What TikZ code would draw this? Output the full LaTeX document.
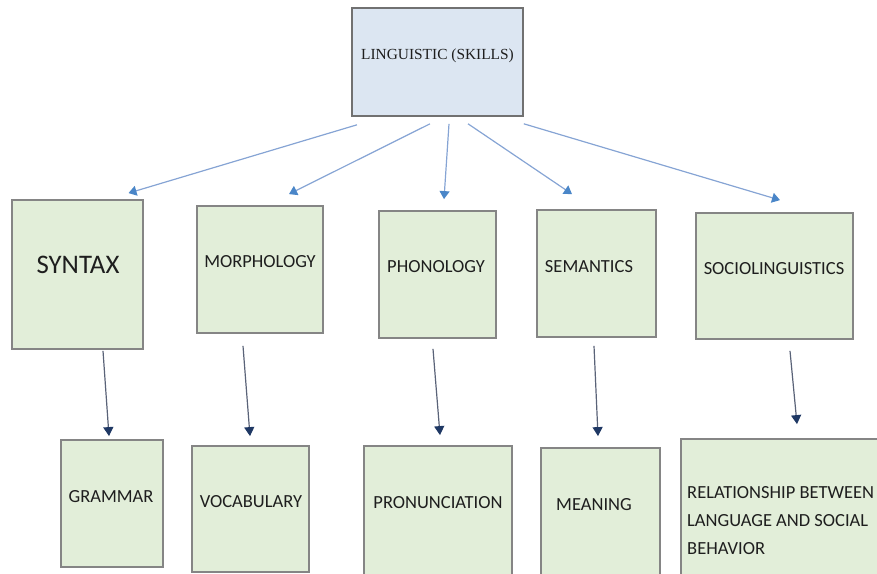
\documentclass[tikz,border=0pt]{standalone}
\usepackage{fontspec}
\setmainfont{Carlito}
\newfontfamily\headfont{Liberation Serif}
\usepackage{xcolor}
\usepackage{tikz}
\usetikzlibrary{arrows.meta}
\definecolor{boxgreen}{HTML}{E2EED9}
\definecolor{boxblue}{HTML}{DCE6F2}
\definecolor{edgegray}{HTML}{858585}
\definecolor{skyline}{HTML}{86A4D4}
\definecolor{skyhead}{HTML}{4A86C8}
\definecolor{navyline}{HTML}{5A6378}
\definecolor{navyhead}{HTML}{1F3864}
\definecolor{inkgray}{HTML}{1E1E1E}

\begin{document}
\begin{tikzpicture}[x=1pt, y=-1pt, >=stealth]
  \tikzstyle{rootbox}=[draw=edgegray!85!black, line width=1.6pt, fill=boxblue, inner sep=0pt]
  \tikzstyle{skill}=[draw=edgegray, line width=1.8pt, fill=boxgreen, inner sep=0pt]
  \tikzstyle{tag}=[text=inkgray, inner sep=0pt, font=\fontsize{18.5}{28}\selectfont]
  \tikzstyle{skyarr}=[draw=skyline, line width=1.2pt, -{Triangle[width=10pt,length=8pt,color=skyhead]}]
  \tikzstyle{navyarr}=[draw=navyline, line width=1.2pt, -{Triangle[width=10pt,length=9pt,color=navyhead]}]
  \useasboundingbox (0,0) rectangle (877,573);
  \clip (0,0) rectangle (877,573);
  % root
  \node[rootbox, minimum width=171pt, minimum height=108pt] (ling) at (437.5,62) {};
  \node[text=inkgray, font=\headfont\fontsize{15.4}{18}\selectfont] (ling-t) at (437.5,56) {LINGUISTIC (SKILLS)};
  % first level
  \node[skill, minimum width=131pt, minimum height=149pt] (syntax) at (77.5,274.5) {};
  \node[skill, minimum width=126pt, minimum height=127pt] (morph) at (260,269.5) {};
  \node[skill, minimum width=117pt, minimum height=127pt] (phon) at (437.5,274.5) {};
  \node[skill, minimum width=119pt, minimum height=127pt] (sem) at (596.5,273.5) {};
  \node[skill, minimum width=157pt, minimum height=126pt] (socio) at (774.5,276) {};
  \node[tag, font=\fontsize{26.8}{30}\selectfont] (syntax-t) at (78,265) {SYNTAX};
  \node[tag] (morph-t) at (260,262) {MORPHOLOGY};
  \node[tag] (phon-t) at (436,267) {PHONOLOGY};
  \node[tag] (sem-t) at (589,267) {SEMANTICS};
  \node[tag] (socio-t) at (774,269) {SOCIOLINGUISTICS};
  % second level
  \node[skill, minimum width=102pt, minimum height=127pt] (grammar) at (112,503.5) {};
  \node[skill, minimum width=117pt, minimum height=126pt] (vocab) at (250.5,509) {};
  \node[skill, minimum width=148pt, minimum height=139pt] (pron) at (438,515.5) {};
  \node[skill, minimum width=119pt, minimum height=137pt] (mean) at (600.5,516.5) {};
  \node[skill, minimum width=219pt, minimum height=147pt] (rel) at (790.5,512.5) {};
  \node[tag] (grammar-t) at (111,497) {GRAMMAR};
  \node[tag] (vocab-t) at (251,502) {VOCABULARY};
  \node[tag] (pron-t) at (438,503) {PRONUNCIATION};
  \node[tag] (mean-t) at (594,505) {MEANING};
  \node[tag, anchor=west, align=left] (rel-t) at (687,521) {RELATIONSHIP BETWEEN\\LANGUAGE AND SOCIAL\\BEHAVIOR};
  % root to skills
  \draw[skyarr] ([xshift=-80.5pt,yshift=-8pt]ling.south) -- ([xshift=51pt,yshift=6pt]syntax.north);
  \draw[skyarr] ([xshift=-7.5pt,yshift=-7pt]ling.south) -- ([xshift=29pt,yshift=11pt]morph.north);
  \draw[skyarr] ([xshift=11.5pt,yshift=-7pt]ling.south) -- ([xshift=6.5pt,yshift=11pt]phon.north);
  \draw[skyarr] ([xshift=30.5pt,yshift=-7pt]ling.south) -- ([xshift=-24.5pt,yshift=15pt]sem.north);
  \draw[skyarr] ([yshift=-7pt]ling.south east) -- ([xshift=5.5pt,yshift=12pt]socio.north);
  % skills to topics
  \draw[navyarr] ([xshift=25.5pt,yshift=-1pt]syntax.south) -- ([xshift=-3pt,yshift=3pt]grammar.north);
  \draw[navyarr] ([xshift=-17pt,yshift=-12pt]morph.south) -- ([xshift=-0.5pt,yshift=9pt]vocab.north);
  \draw[navyarr] ([xshift=-4.5pt,yshift=-10pt]phon.south) -- ([xshift=2pt,yshift=10pt]pron.north);
  \draw[navyarr] ([xshift=-2.5pt,yshift=-8pt]sem.south) -- ([xshift=-2.5pt,yshift=11pt]mean.north);
  \draw[navyarr] ([xshift=15.5pt,yshift=-11pt]socio.south) -- ([xshift=6.5pt,yshift=14pt]rel.north);
\end{tikzpicture}
\end{document}
